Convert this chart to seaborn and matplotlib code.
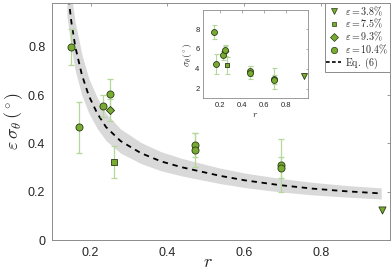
import numpy as np
import pandas as pd
import matplotlib
matplotlib.use("Agg")
import matplotlib.pyplot as plt
import seaborn as sns
from matplotlib.lines import Line2D

sns.set_theme(style="white")
plt.rcParams['font.family'] = ['Liberation Sans', 'DejaVu Sans']
plt.rcParams['mathtext.fontset'] = 'cm'

# ---- data ----
r_pts   = [0.150, 0.170, 0.231, 0.250, 0.250, 0.262, 0.473, 0.473, 0.696, 0.696, 0.959]
es_pts  = [0.800, 0.467, 0.555, 0.606, 0.540, 0.324, 0.393, 0.373, 0.310, 0.300, 0.124]
es_err  = [0.075, 0.105, 0.047, 0.060, 0.045, 0.065, 0.050, 0.070, 0.110, 0.045, 0.000]
eps_pts = ['10.4', '10.4', '10.4', '10.4', '9.3', '7.5', '10.4', '10.4', '10.4', '10.4', '3.8']

sig_pts = [7.70, 4.50, 5.35, 5.85, 5.80, 4.35, 3.80, 3.60, 3.00, 2.90, 3.30]
sig_err = [0.72, 1.00, 0.45, 0.58, 0.48, 0.87, 0.48, 0.67, 1.06, 0.43, 0.00]

eps_order = ['3.8', '7.5', '9.3', '10.4']
eps_markers = {'3.8': 'v', '7.5': 's', '9.3': 'D', '10.4': 'o'}
eps_sizes = {'3.8': 26, '7.5': 14, '9.3': 17, '10.4': 26}

curve_r   = [0.138, 0.150, 0.160, 0.177, 0.195, 0.217, 0.240, 0.278, 0.331, 0.383, 0.436,
             0.489, 0.537, 0.603, 0.690, 0.778, 0.865, 0.957]
curve_val = [1.060, 0.900, 0.800, 0.685, 0.598, 0.525, 0.468, 0.410, 0.360, 0.326, 0.302,
             0.283, 0.266, 0.247, 0.228, 0.213, 0.202, 0.193]
band_hi   = [1.190, 1.010, 0.900, 0.770, 0.670, 0.590, 0.525, 0.460, 0.404, 0.366, 0.339,
             0.317, 0.298, 0.277, 0.256, 0.239, 0.226, 0.216]
band_lo   = [0.930, 0.790, 0.700, 0.600, 0.526, 0.462, 0.412, 0.360, 0.317, 0.287, 0.266,
             0.249, 0.234, 0.217, 0.200, 0.187, 0.178, 0.170]

df = pd.DataFrame({'r': r_pts, 'es': es_pts, 'es_err': es_err, 'eps': eps_pts,
                   'sig': sig_pts, 'sig_err': sig_err})
cdf = pd.DataFrame({'r': curve_r, 'val': curve_val, 'hi': band_hi, 'lo': band_lo})

GREEN = '#77AC30'
EDGE = '#2b3a16'
ERRC = '#b4d79a'
SPINE = '#8c8c8c'
TXT = '#262626'

fig = plt.figure(figsize=(3.92, 2.74), dpi=100)
ax = fig.add_axes([0.1334, 0.124, 0.8616, 0.866])

ax.fill_between(cdf['r'], cdf['lo'], cdf['hi'], color='#d9d9d9', lw=0, zorder=1)
sns.lineplot(data=cdf, x='r', y='val', ax=ax, color='black', lw=1.3,
             linestyle=(0, (3.0, 2.6)), zorder=2, legend=False)

m = df['es_err'] > 0
ax.errorbar(df.loc[m, 'r'], df.loc[m, 'es'], yerr=df.loc[m, 'es_err'], fmt='none',
            ecolor=ERRC, elinewidth=0.9, capsize=2.2, capthick=0.9, zorder=3)
for e in eps_order:
    sub = df[df['eps'] == e]
    sns.scatterplot(data=sub, x='r', y='es', ax=ax, marker=eps_markers[e], s=eps_sizes[e],
                    color=GREEN, edgecolor=EDGE, linewidth=0.6, zorder=4, legend=False)

ax.set_xlim(0.1, 0.98)
ax.set_ylim(0, 0.983)
ax.set_xticks([0.2, 0.4, 0.6, 0.8])
ax.set_xticklabels(['0.2', '0.4', '0.6', '0.8'])
ax.set_yticks([0, 0.2, 0.4, 0.6, 0.8])
ax.set_yticklabels(['0', '0.2', '0.4', '0.6', '0.8'])
ax.tick_params(direction='in', length=2.5, width=0.6, color=SPINE, labelsize=9,
               labelcolor=TXT, top=True, right=True, pad=5)
for s in ax.spines.values():
    s.set_color(SPINE)
    s.set_linewidth(0.7)
ax.set_xlabel(r'$r$', fontsize=13, color=TXT, labelpad=0)
ax.set_ylabel(r'$\varepsilon\,\sigma_\theta\,(^\circ)$', fontsize=13, color=TXT, labelpad=2)
ax.xaxis.set_label_coords(0.46, -0.06)

# legend
handles = []
labels = []
for e in eps_order:
    handles.append(Line2D([], [], marker=eps_markers[e], linestyle='none',
                          markersize=np.sqrt(eps_sizes[e]) * 0.9, markerfacecolor=GREEN,
                          markeredgecolor=EDGE, markeredgewidth=0.5))
    labels.append(r'$\varepsilon = %s\%%$' % e)
handles.append(Line2D([], [], color='black', lw=1.2, linestyle=(0, (2.2, 1.4))))
labels.append(r'$\mathrm{Eq.\ (6)}$')
leg = ax.legend(handles, labels, loc='upper right', fontsize=7.2, frameon=True,
                fancybox=False, edgecolor=SPINE, framealpha=1, borderpad=0.15,
                handlelength=1.5, handletextpad=0.4, labelspacing=-0.05,
                borderaxespad=0.0)
leg.get_frame().set_linewidth(0.7)

# inset
ax2 = fig.add_axes([0.518, 0.642, 0.268, 0.321])
ax2.errorbar(df.loc[m, 'r'], df.loc[m, 'sig'], yerr=df.loc[m, 'sig_err'], fmt='none',
             ecolor=ERRC, elinewidth=0.8, capsize=1.8, capthick=0.8, zorder=3)
for e in eps_order:
    sub = df[df['eps'] == e]
    sns.scatterplot(data=sub, x='r', y='sig', ax=ax2, marker=eps_markers[e],
                    s=eps_sizes[e] * 0.7, color=GREEN, edgecolor=EDGE, linewidth=0.6,
                    zorder=4, legend=False)
ax2.set_xlim(0.05, 1.0)
ax2.set_ylim(1.05, 9.9)
ax2.set_xticks([0.2, 0.4, 0.6, 0.8])
ax2.set_xticklabels(['0.2', '0.4', '0.6', '0.8'])
ax2.set_yticks([2, 4, 6, 8])
ax2.set_yticklabels(['2', '4', '6', '8'])
ax2.tick_params(direction='in', length=1.8, width=0.5, color=SPINE, labelsize=5.5,
                labelcolor=TXT, top=True, right=True, pad=2.5)
for s in ax2.spines.values():
    s.set_color(SPINE)
    s.set_linewidth(0.6)
ax2.set_xlabel(r'$r$', fontsize=7, color=TXT, labelpad=0)
ax2.set_ylabel(r'$\sigma_\theta(^\circ)$', fontsize=7, color=TXT, labelpad=1)
ax2.set_facecolor('white')

fig.savefig('out.png', dpi=100)
